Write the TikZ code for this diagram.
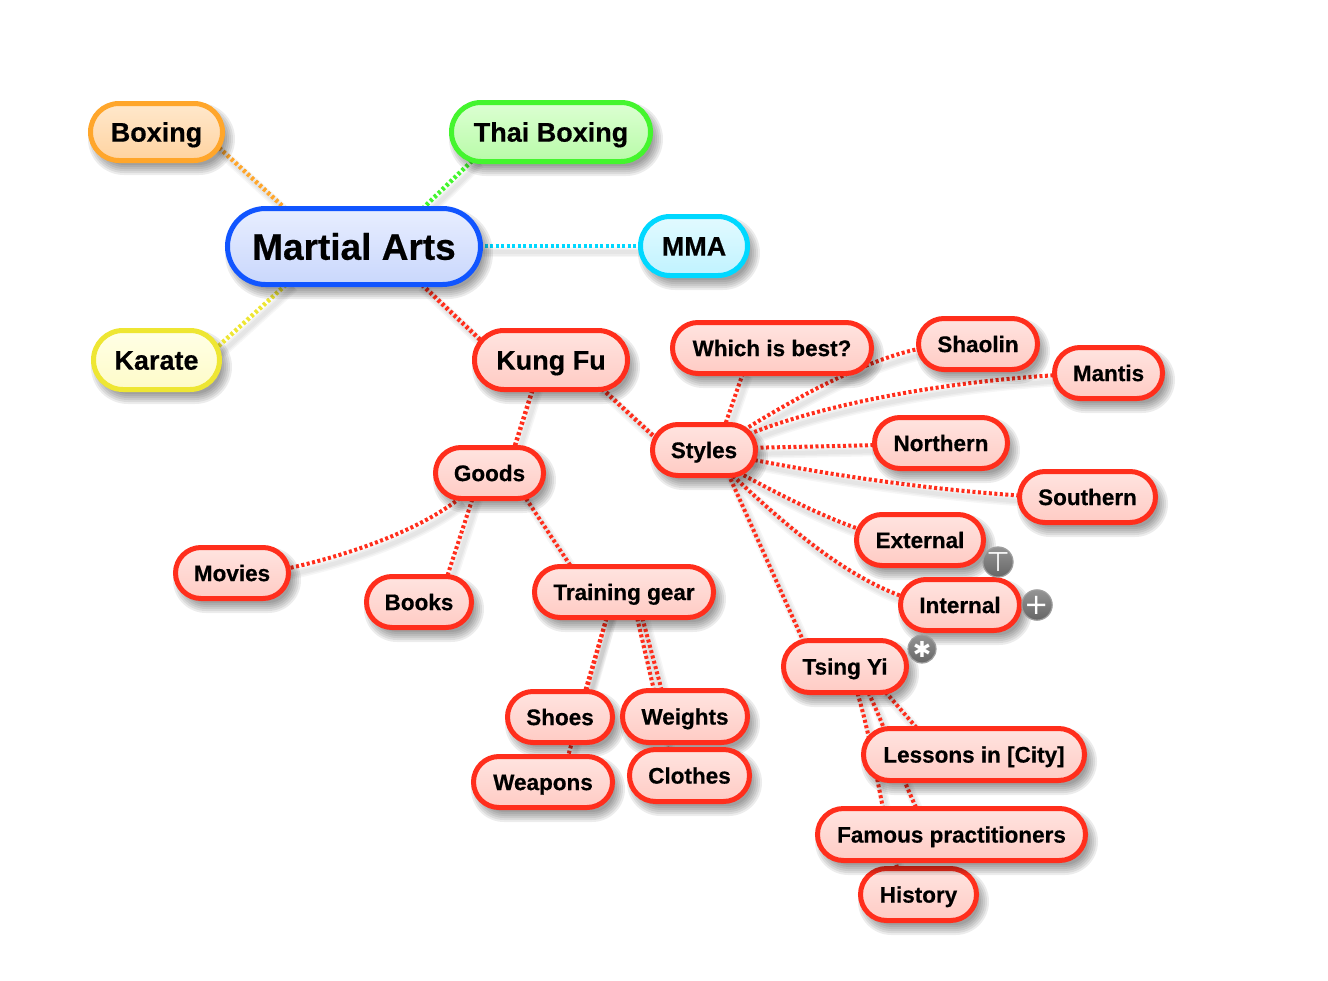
\documentclass[tikz,border=0pt]{standalone}
\usepackage{fontspec}
\setmainfont[BoldFeatures={FakeBold=0.5}]{Liberation Sans}
\newfontfamily\symfont{DejaVu Sans}
\usetikzlibrary{calc,shapes.misc}
\pgfdeclarelayer{linklayer}
\pgfsetlayers{linklayer,main}
\definecolor{orgL}{HTML}{FFA62B}\definecolor{orgT}{HTML}{FFE8CC}\definecolor{orgB}{HTML}{FFD3A0}
\definecolor{grnL}{HTML}{44F52E}\definecolor{grnT}{HTML}{DCFFD2}\definecolor{grnB}{HTML}{B8FBA8}
\definecolor{bluL}{HTML}{1155FF}\definecolor{bluT}{HTML}{E8EEFF}\definecolor{bluB}{HTML}{C9D7FC}
\definecolor{cyaL}{HTML}{00D8FF}\definecolor{cyaT}{HTML}{E2FAFF}\definecolor{cyaB}{HTML}{C0F3FF}
\definecolor{yelL}{HTML}{EEE633}\definecolor{yelT}{HTML}{FFFFE6}\definecolor{yelB}{HTML}{FEFBC8}
\definecolor{redL}{HTML}{FF2E1C}\definecolor{redT}{HTML}{FFE4E0}\definecolor{redB}{HTML}{FFCBC4}
\tikzset{
  mapnode/.style={rounded rectangle,inner sep=0pt,outer sep=0pt,align=center,text=black},
  badge/.style={circle,inner sep=0pt,outer sep=0pt,minimum size=28pt,draw=black!38,line width=1.2pt,
    top color=black!42,bottom color=black!60,text=white},
}
% name, x1,y1,x2,y2, font size, text, colour prefix
\newcommand{\mapbox}[8]{%
  \pgfmathsetmacro{\cxx}{(#2+#4)/2}\pgfmathsetmacro{\cyy}{(#3+#5)/2}%
  \pgfmathsetmacro{\www}{#4-#2-5}\pgfmathsetmacro{\hhh}{#5-#3-5}%
  \pgfmathsetmacro{\tth}{#6*0.716}%
  \foreach \k in {-5,-3,-1,1,3,5}{%
    \pgfmathsetmacro{\rr}{max(2,(#5-#3)/2-\k)}%
    \fill[black,opacity=.075,rounded corners=\rr pt] (#2+5+\k,#3+7+\k) rectangle (#4+5-\k,#5+7-\k);
  }%
  \node[mapnode,draw=#8L,line width=5pt,top color=#8T,middle color=#8B,bottom color=#8B,
    minimum width=\www pt,minimum height=\hhh pt,text height=\tth pt,text depth=0pt,
    font=\fontsize{#6}{#6}\selectfont\bfseries]
    (#1) at (\cxx,\cyy) {#7};%
}
% width, colour, path
\newcommand{\maplink}[3]{%
  \begin{pgfonlayer}{linklayer}
  \foreach \k in {10,7,4}{\draw[black,opacity=.035,line width=\k pt,transform canvas={shift={(4pt,-6pt)}}] #3;}
  \draw[#2,line width=#1pt,dash pattern=on 3pt off 2.5pt] #3;
  \end{pgfonlayer}%
}
\begin{document}
\begin{tikzpicture}[x=1pt,y=-1pt]
\useasboundingbox (0,0) rectangle (1328,980);
\mapbox{boxing}{88}{101}{225}{163}{27}{Boxing}{org}
\mapbox{thai}{449}{100}{653}{164}{27}{Thai Boxing}{grn}
\mapbox{martial}{225}{206}{483}{287}{37}{Martial Arts}{blu}
\mapbox{mma}{638}{214}{750}{278}{27}{MMA}{cya}
\mapbox{karate}{91}{328}{222}{392}{27}{Karate}{yel}
\mapbox{kungfu}{472}{328}{630}{392}{27}{Kung Fu}{red}
\mapbox{goods}{433}{445}{546}{501}{22.5}{Goods}{red}
\mapbox{which}{670}{320}{874}{376}{22.5}{Which is best?}{red}
\mapbox{shaolin}{916}{316}{1040}{372}{22.5}{Shaolin}{red}
\mapbox{mantis}{1052}{345}{1165}{401}{22.5}{Mantis}{red}
\mapbox{styles}{650}{422}{758}{478}{22.5}{Styles}{red}
\mapbox{northern}{872}{415}{1010}{471}{22.5}{Northern}{red}
\mapbox{southern}{1017}{469}{1158}{525}{22.5}{Southern}{red}
\mapbox{external}{854}{512}{986}{568}{22.5}{External}{red}
\mapbox{internal}{898}{577}{1022}{633}{22.5}{Internal}{red}
\mapbox{tsing}{781}{638}{909}{695}{22.5}{Tsing Yi}{red}
\mapbox{movies}{173}{545}{291}{601}{22.5}{Movies}{red}
\mapbox{books}{364}{574}{474}{630}{22.5}{Books}{red}
\mapbox{training}{532}{564}{716}{620}{22.5}{Training gear}{red}
\mapbox{shoes}{505}{689}{615}{745}{22.5}{Shoes}{red}
\mapbox{weights}{620}{688}{750}{745}{22.5}{Weights}{red}
\mapbox{weapons}{471}{754}{615}{810}{22.5}{Weapons}{red}
\mapbox{clothes}{627}{747}{752}{804}{22.5}{Clothes}{red}
\mapbox{history}{858}{866}{979}{923}{22.5}{History}{red}
\mapbox{famous}{815}{806}{1088}{863}{22.5}{Famous practitioners}{red}
\mapbox{lessons}{861}{726}{1087}{783}{22.5}{Lessons in [City]}{red}

\node[badge] (bt) at (998,562) {\symfont\fontsize{27}{27}\selectfont ⊤};
\node[badge] (bp) at (1037,605) {\symfont\fontsize{29}{29}\selectfont +};
\node[badge] (bs) at (922,649) {\symfont\fontsize{22}{22}\selectfont ✱};

\maplink{4.5}{orgL}{($(boxing)+(58.5,12)$) -- ($(martial)+(-64,-33.5)$)}
\maplink{4.5}{grnL}{($(thai)+(-75,25)$) -- ($(martial)+(64,-33.5)$)}
\maplink{4.5}{cyaL}{($(martial)+(125,-.5)$) -- ($(mma)+(-50,0)$)}
\maplink{4.5}{yelL}{($(martial)+(-64,34.5)$) -- ($(karate)+(55.5,-8)$)}
\maplink{4.5}{redL}{($(martial)+(64,34.5)$) -- ($(kungfu)+(-61,-11)$)}
\maplink{4.5}{redL}{($(kungfu)+(-17,25)$) -- ($(goods)+(23.5,-21)$)}
\maplink{4.5}{redL}{($(kungfu)+(47,25)$) -- ($(styles)+(-44,-8)$)}
\maplink{4}{redL}{($(goods)+(-29.5,25)$) .. controls (420,530) and (350,555) .. ($(movies)+(53,-4)$)}
\maplink{4}{redL}{($(goods)+(-15.5,21)$) -- ($(books)+(27,-22)$)}
\maplink{4}{redL}{($(goods)+(33.5,21)$) -- ($(training)+(-50,-21)$)}
\maplink{4}{redL}{($(training)+(-16,21)$) -- ($(shoes)+(24,-22)$)}
\maplink{4}{redL}{($(training)+(-16,21)$) -- ($(weapons)+(24,-22)$)}
\maplink{4}{redL}{($(training)+(12,21)$) -- ($(clothes)+(-21.5,-25)$)}
\maplink{4}{redL}{($(training)+(17,21)$) -- ($(weights)+(-22,-21.5)$)}
\maplink{4}{redL}{($(styles)+(20,-22)$) -- ($(which)+(-28,22)$)}
\maplink{4}{redL}{($(styles)+(40,-20)$) .. controls (800,395) and (870,358) .. ($(shaolin)+(-55,4)$)}
\maplink{4}{redL}{($(styles)+(40,-14)$) .. controls (820,405) and (940,382) .. ($(mantis)+(-50,2)$)}
\maplink{4}{redL}{($(styles)+(40,-2)$) -- ($(northern)+(-60,2)$)}
\maplink{4}{redL}{($(styles)+(40,8)$) .. controls (830,475) and (930,490) .. ($(southern)+(-60,-1)$)}
\maplink{4}{redL}{($(styles)+(30,20)$) .. controls (780,495) and (825,518) .. ($(external)+(-55,-9)$)}
\maplink{4}{redL}{($(styles)+(25,22)$) .. controls (790,530) and (850,580) .. ($(internal)+(-50,-6)$)}
\maplink{4}{redL}{($(styles)+(22,19)$) -- ($(tsing)+(-39,-19.5)$)}
\maplink{4}{redL}{($(tsing)+(37,21.5)$) -- ($(lessons)+(-52,-20.5)$)}
\maplink{4}{redL}{($(tsing)+(21,21.5)$) .. controls (885,725) and (900,775) .. ($(famous)+(-33,-22)$)}
\maplink{4}{redL}{($(tsing)+(11,21.5)$) .. controls (875,750) and (880,810) .. ($(history)+(-20,-22)$)}
\end{tikzpicture}
\end{document}
